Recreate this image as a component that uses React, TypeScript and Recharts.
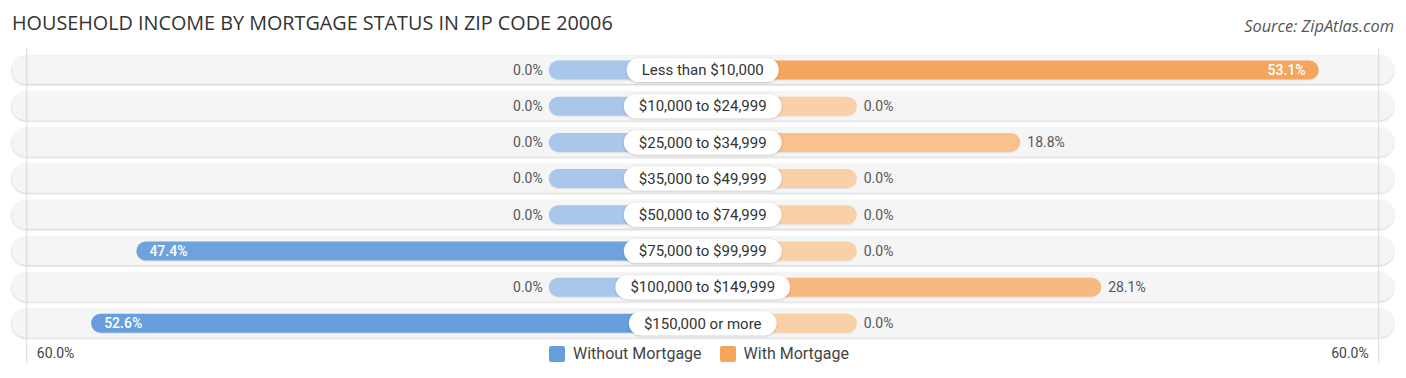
import React from 'react';
import { Bar, BarChart, LabelList, XAxis, YAxis } from 'recharts';

const categories = [
  'Less than $10,000',
  '$10,000 to $24,999',
  '$25,000 to $34,999',
  '$35,000 to $49,999',
  '$50,000 to $74,999',
  '$75,000 to $99,999',
  '$100,000 to $149,999',
  '$150,000 or more',
];
const withoutMortgage = [0, 0, 0, 0, 0, 47.4, 0, 52.6];
const withMortgage = [53.1, 0, 18.8, 0, 0, 0, 28.1, 0];
const axisMax = 60;

// room kept free around the centre for the category pill (in % units)
const BASE = 17.7;
const DOMAIN = 79.4;

const FONT = 'Roboto, "Noto Sans", sans-serif';
const TITLE_FONT = '"Open Sans", Roboto, sans-serif';

const chartData = categories.map((name, i) => ({
  name,
  left: -(BASE + withoutMortgage[i]),
  right: BASE + withMortgage[i],
  leftValue: withoutMortgage[i],
  rightValue: withMortgage[i],
}));

const maxLeft = Math.max(...withoutMortgage);
const maxRight = Math.max(...withMortgage);

function mix(a: number[], b: number[], t: number) {
  const c = a.map((v, i) => Math.round(v + (b[i] - v) * t));
  return `rgb(${c[0]}, ${c[1]}, ${c[2]})`;
}

const BLUE_LIGHT = [169, 199, 234];
const BLUE_FULL = [103, 158, 219];
const ORANGE_LIGHT = [250, 208, 169];
const ORANGE_FULL = [246, 165, 92];

let ctx: CanvasRenderingContext2D | null = null;
function textWidth(text: string, font: string) {
  if (!ctx) ctx = document.createElement('canvas').getContext('2d');
  if (!ctx) return text.length * 8;
  ctx.font = font;
  return ctx.measureText(text).width;
}

function Track(props: any) {
  const { x, y, width, height } = props;
  const h = 28;
  const cy = y + height / 2;
  return (
    <rect
      x={x}
      y={cy - h / 2}
      width={width}
      height={h}
      rx={h / 2}
      fill="#f5f5f5"
      filter="url(#trackShadow)"
    />
  );
}

function PillBar(props: any) {
  const { side, payload } = props;
  let { x, y, width, height } = props;
  if (width < 0) {
    x += width;
    width = -width;
  }
  const fill =
    side === 'left'
      ? mix(BLUE_LIGHT, BLUE_FULL, payload.leftValue / maxLeft)
      : mix(ORANGE_LIGHT, ORANGE_FULL, payload.rightValue / maxRight);
  return (
    <rect
      x={x}
      y={y}
      width={width}
      height={height}
      rx={height / 2}
      fill={fill}
      filter="url(#barShadow)"
    />
  );
}

function ValueLabel(props: any) {
  const { side, value } = props;
  let { x, width } = props;
  const { y, height } = props;
  if (width < 0) {
    x += width;
    width = -width;
  }
  const v = Number(value);
  const inside = v > 40;
  const cy = y + height / 2;
  let tx: number;
  let anchor: 'start' | 'end';
  if (side === 'left') {
    tx = inside ? x + 13 : x - 6;
    anchor = inside ? 'start' : 'end';
  } else {
    tx = inside ? x + width - 13 : x + width + 7;
    anchor = inside ? 'end' : 'start';
  }
  return (
    <text
      x={tx}
      y={cy}
      dy="0.35em"
      textAnchor={anchor}
      fontFamily={FONT}
      fontSize={14}
      fontWeight={inside ? 500 : 400}
      fill={inside ? '#ffffff' : '#555555'}
    >
      {v.toFixed(1)}%
    </text>
  );
}

function CenterLabel(props: any) {
  const { x, y, height, value } = props;
  const cy = y + height / 2;
  const w = textWidth(String(value), `15px ${FONT}`) + 30;
  const h = 24;
  return (
    <g>
      <rect
        x={x - w / 2}
        y={cy - h / 2}
        width={w}
        height={h}
        rx={h / 2}
        fill="#ffffff"
        filter="url(#pillShadow)"
      />
      <text
        x={x}
        y={cy}
        dy="0.35em"
        textAnchor="middle"
        fontFamily={FONT}
        fontSize={15}
        fill="#333333"
      >
        {value}
      </text>
    </g>
  );
}

function AxisTick(props: any) {
  const { x, y, payload } = props;
  const neg = payload.value < 0;
  return (
    <g>
      <line x1={x} x2={x} y1={48} y2={363} stroke="#d9d9d9" strokeWidth={1} />
      <text
        x={neg ? x + 10 : x - 10}
        y={y + 4}
        dy="0.35em"
        textAnchor={neg ? 'start' : 'end'}
        fontFamily={FONT}
        fontSize={14}
        fill="#444444"
      >
        {axisMax.toFixed(1)}%
      </text>
    </g>
  );
}

export default function App() {
  return (
    <div
      style={{
        position: 'absolute',
        left: 0,
        top: 0,
        width: 1406,
        height: 378,
        background: '#ffffff',
        fontFamily: FONT,
      }}
    >
      <div
        style={{
          position: 'absolute',
          left: 12,
          top: 9,
          fontSize: 19.8,
          fontFamily: TITLE_FONT,
          color: '#333333',
          whiteSpace: 'nowrap',
        }}
      >
        HOUSEHOLD INCOME BY MORTGAGE STATUS IN ZIP CODE 20006
      </div>
      <div
        style={{
          position: 'absolute',
          right: 12,
          top: 14,
          fontSize: 16.4,
          fontFamily: TITLE_FONT,
          fontStyle: 'italic',
          color: '#555555',
          whiteSpace: 'nowrap',
        }}
      >
        Source: ZipAtlas.com
      </div>

      <BarChart
        width={1406}
        height={378}
        data={chartData}
        layout="vertical"
        stackOffset="sign"
        margin={{ top: 51.5, right: 12.5, bottom: 0, left: 12 }}
      >
        <defs>
          <filter id="trackShadow" x="-5%" y="-50%" width="110%" height="200%">
            <feDropShadow dx="0" dy="0.6" stdDeviation="1" floodColor="#000" floodOpacity="0.28" />
          </filter>
          <filter id="barShadow" x="-5%" y="-50%" width="110%" height="200%">
            <feDropShadow dx="0" dy="0.5" stdDeviation="0.6" floodColor="#000" floodOpacity="0.15" />
          </filter>
          <filter id="pillShadow" x="-20%" y="-50%" width="140%" height="200%">
            <feDropShadow dx="0" dy="0.6" stdDeviation="1" floodColor="#000" floodOpacity="0.25" />
          </filter>
        </defs>
        <XAxis
          type="number"
          domain={[-DOMAIN, DOMAIN]}
          ticks={[-(BASE + axisMax), BASE + axisMax]}
          axisLine={false}
          tickLine={false}
          tick={<AxisTick />}
          height={37}
          allowDataOverflow
        />
        <YAxis type="category" dataKey="name" hide />
        <Bar
          dataKey="left"
          stackId="a"
          barSize={19}
          isAnimationActive={false}
          background={<Track />}
          shape={<PillBar side="left" />}
        >
          <LabelList dataKey="leftValue" content={<ValueLabel side="left" />} />
        </Bar>
        <Bar
          dataKey="right"
          stackId="a"
          barSize={19}
          isAnimationActive={false}
          shape={<PillBar side="right" />}
        >
          <LabelList dataKey="rightValue" content={<ValueLabel side="right" />} />
          <LabelList dataKey="name" content={<CenterLabel />} />
        </Bar>
      </BarChart>

      <div
        style={{
          position: 'absolute',
          left: 0,
          top: 345,
          width: 1406,
          display: 'flex',
          justifyContent: 'center',
          gap: 18,
          fontSize: 16,
          color: '#444444',
          paddingRight: 8,
          boxSizing: 'border-box',
        }}
      >
        {[
          { label: 'Without Mortgage', color: mix(BLUE_LIGHT, BLUE_FULL, 1) },
          { label: 'With Mortgage', color: mix(ORANGE_LIGHT, ORANGE_FULL, 1) },
        ].map((item) => (
          <div key={item.label} style={{ display: 'flex', alignItems: 'center', gap: 8 }}>
            <span
              style={{
                display: 'inline-block',
                width: 16,
                height: 16,
                borderRadius: 2,
                background: item.color,
              }}
            />
            <span style={{ lineHeight: '17px' }}>{item.label}</span>
          </div>
        ))}
      </div>
    </div>
  );
}
